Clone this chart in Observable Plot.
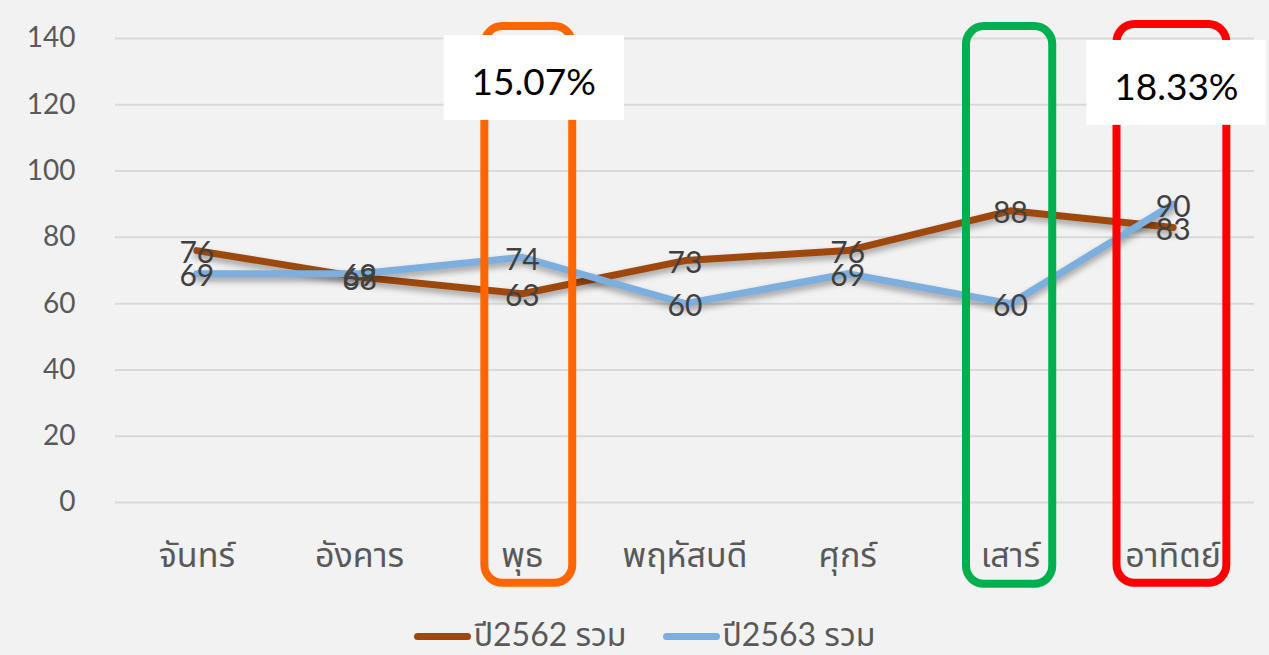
<!DOCTYPE html>
<html><head><meta charset="utf-8">
<script src="https://cdn.jsdelivr.net/npm/d3@7"></script>
<script src="https://cdn.jsdelivr.net/npm/@observablehq/plot@0.6"></script>
<style>
html,body{margin:0;padding:0;background:#f2f2f2;width:1269px;height:655px;overflow:hidden;font-family:Lato,"Noto Sans","Noto Sans Thai",sans-serif;}
#chart svg{display:block;}
#legend{display:flex;justify-content:center;align-items:center;gap:36px;font-size:32px;color:#595959;margin-top:0px;margin-left:20px;}
#legend .item{display:flex;align-items:center;}
#legend .sw{display:inline-block;width:57px;height:7px;border-radius:4px;margin-right:3px;}
g[aria-label="line"] path{filter:drop-shadow(0px 4px 3px rgba(0,0,0,0.35));}
</style></head>
<body>
<div id="chart"></div>
<div id="legend"></div>
<script>
const days = ["จันทร์","อังคาร","พุธ","พฤหัสบดี","ศุกร์","เสาร์","อาทิตย์"];
const series = ["ปี2562 รวม","ปี2563 รวม"];
const values2562 = [76,68,63,73,76,88,83];
const values2563 = [69,69,74,60,69,60,90];
const seriesColors = ["#9E480E","#7CAFDD"];
const yTicks = [0,20,40,60,80,100,120,140];
const highlightDays = ["พุธ","เสาร์","อาทิตย์"];
const highlightColors = ["#FF6600","#00B050","#FF0000"];
const noteDays = ["พุธ","อาทิตย์"];
const noteTexts = ["15.07%","18.33%"];

const rows = [];
days.forEach((d,i)=>{
  rows.push({i, day:d, s:series[0], v:values2562[i]});
  rows.push({i, day:d, s:series[1], v:values2563[i]});
});
const boxes = [
  {i:days.indexOf("พุธ"), x1:1.77, x2:2.31, y1:-24.4, y2:143.6, c:highlightColors[0]},
  {i:days.indexOf("เสาร์"), x1:4.73, x2:5.26, y1:-24.7, y2:143.6, c:highlightColors[1]},
  {i:days.indexOf("อาทิตย์"), x1:5.655, x2:6.33, y1:-24.4, y2:144.2, c:highlightColors[2]}
];
const notes = [
  {x1:1.52, x2:2.628, y1:115.3, y2:140.9, tx:2.07, ty:126.4, t:noteTexts[0]},
  {x1:5.47, x2:6.572, y1:113.8, y2:139.4, tx:6.02, ty:124.9, t:noteTexts[1]}
];

const chart = Plot.plot({
  width:1269, height:612,
  marginLeft:115, marginRight:15, marginTop:38, marginBottom:110,
  style:{background:"transparent", fontFamily:'Lato,"Noto Sans","Noto Sans Thai",sans-serif'},
  x:{domain:[-0.5,6.5], axis:null},
  y:{domain:[0,140], axis:null},
  color:{domain:series, range:seriesColors},
  marks:[
    Plot.ruleY(yTicks,{stroke:"#d9d9d9", strokeWidth:2}),
    Plot.axisY({ticks:yTicks, tickSize:0, tickPadding:40, fontSize:28, fill:"#595959", label:null}),
    Plot.axisX({ticks:d3.range(days.length), tickFormat:i=>days[i], tickSize:0, tickPadding:40, fontSize:34, fill:"#595959", label:null}),
    Plot.line(rows,{x:"i", y:"v", z:"s", stroke:"s", strokeWidth:7, curve:"linear", strokeLinecap:"round", strokeLinejoin:"round"}),
    Plot.text(rows,{x:"i", y:"v", text:"v", fontSize:30, fill:"#404040", dy:3}),
    Plot.rect(boxes,{x1:"x1", x2:"x2", y1:"y1", y2:"y2", stroke:"c", fill:"none", strokeWidth:8, rx:18}),
    Plot.rect(notes,{x1:"x1", x2:"x2", y1:"y1", y2:"y2", fill:"white"}),
    Plot.text(notes,{x:"tx", y:"ty", text:"t", fontSize:37, fill:"black"})
  ]
});
document.getElementById("chart").appendChild(chart);

const lg = document.getElementById("legend");
series.forEach((s,k)=>{
  const it = document.createElement("div"); it.className="item";
  const sw = document.createElement("span"); sw.className="sw"; sw.style.background=seriesColors[k];
  const tx = document.createElement("span"); tx.textContent=s;
  it.appendChild(sw); it.appendChild(tx); lg.appendChild(it);
});
</script>
</body></html>
